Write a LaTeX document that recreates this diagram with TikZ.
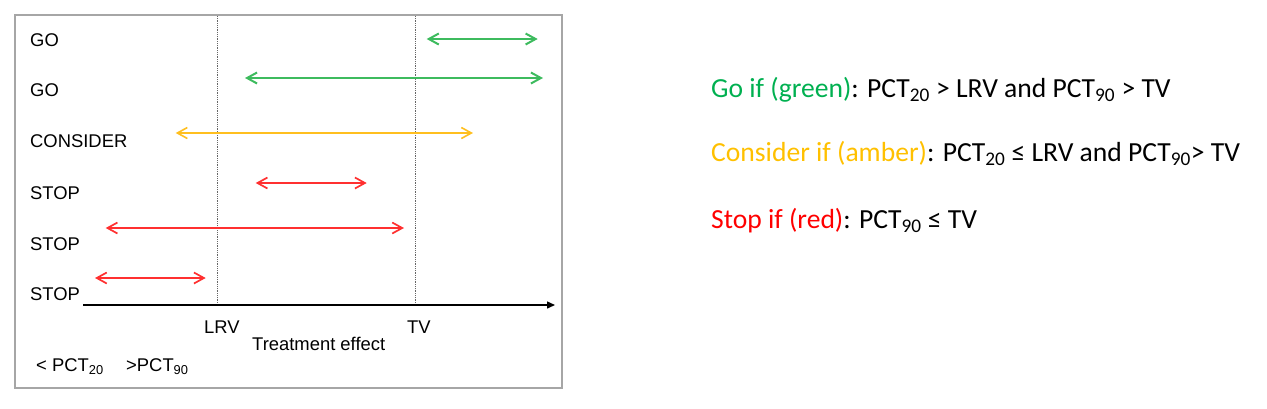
\documentclass[tikz,border=0pt]{standalone}
\usepackage{fontspec}
\setmainfont{Liberation Sans}
\newfontfamily\calfont{Carlito}
\usetikzlibrary{arrows.meta}
\definecolor{gogreen}{HTML}{00B050}
\definecolor{arrgreen}{HTML}{3DBB5E}
\definecolor{amber}{HTML}{FFC000}
\definecolor{arramber}{HTML}{FFBF1F}
\definecolor{stopred}{HTML}{FF0000}
\definecolor{arrred}{HTML}{FF3030}
\definecolor{frame}{HTML}{A6A6A6}
\tikzset{
  lab/.style={anchor=base west, inner sep=0pt, font=\fontsize{18.4}{20}\selectfont},
  rule/.style={anchor=base west, inner sep=0pt, font=\calfont\fontsize{27.6}{30}\selectfont},
  barb/.style={{Straight Barb[length=10pt,width=11pt]}-{Straight Barb[length=10pt,width=11pt]}},
  garrow/.style={barb, draw=arrgreen, line width=2pt},
  aarrow/.style={barb, draw=arramber, line width=1.6pt},
  rarrow/.style={barb, draw=arrred, line width=1.7pt},
  guide/.style={draw=black!60, densely dotted, line width=0.8pt},
}
\begin{document}
\begin{tikzpicture}[x=1pt,y=-1pt]
\useasboundingbox (0,0) rectangle (1267,408);
% frame
\draw[frame, line width=2pt] (15,15) rectangle (562,388);
% guide lines
\coordinate (lrvtop) at (217,16);
\coordinate (lrvbot) at (217,305);
\coordinate (tvtop) at (415,16);
\coordinate (tvbot) at (415,305);
\draw[guide] (lrvtop) -- (lrvbot);
\draw[guide] (tvtop) -- (tvbot);
% axis
\coordinate (ax0) at (83,305);
\coordinate (ax1) at (555,305);
\draw[line width=1.5pt, -{Triangle[length=8pt,width=7pt]}] (ax0) -- (ax1);
% row labels
\node[lab] (l1) at (30,46) {GO};
\node[lab] (l2) at (30,96.7) {GO};
\node[lab] (l3) at (30,147.7) {CONSIDER};
\node[lab] (l4) at (30,199) {STOP};
\node[lab] (l5) at (30,250) {STOP};
\node[lab] (l6) at (30,300.7) {STOP};
% interval arrows
\coordinate (a1l) at (426.7,39); \coordinate (a1r) at (537.7,39);
\coordinate (a2l) at (245,78); \coordinate (a2r) at (543,78);
\coordinate (a3l) at (175.7,133); \coordinate (a3r) at (473,133);
\coordinate (a4l) at (255.7,183); \coordinate (a4r) at (366.7,183);
\coordinate (a5l) at (105.7,228); \coordinate (a5r) at (404,228);
\coordinate (a6l) at (95,278); \coordinate (a6r) at (205.7,278);
\draw[garrow] (a1l) -- (a1r);
\draw[garrow] (a2l) -- (a2r);
\draw[aarrow] (a3l) -- (a3r);
\draw[rarrow] (a4l) -- (a4r);
\draw[rarrow] (a5l) -- (a5r);
\draw[rarrow] (a6l) -- (a6r);
% axis labels
\node[lab] (lrv) at (204,333.3) {LRV};
\node[lab] (tv) at (407,333.3) {TV};
\node[lab] (te) at (252,350) {Treatment effect};
\node[lab] (lg1) at (36,371.7) {< PCT\textsubscript{20}};
\node[lab] (lg2) at (126,371.7) {>PCT\textsubscript{90}};
% rules
\node[rule] (r1) at (711,97.5) {\textcolor{gogreen}{Go if (green)}: PCT\textsubscript{20} > LRV and PCT\textsubscript{90} > TV};
\node[rule] (r2) at (711,161.7) {\textcolor{amber}{Consider if (amber)}: PCT\textsubscript{20} ≤ LRV and PCT\textsubscript{90}> TV};
\node[rule] (r3) at (711,228.3) {\textcolor{stopred}{Stop if (red)}: PCT\textsubscript{90} ≤ TV};
\end{tikzpicture}
\end{document}
